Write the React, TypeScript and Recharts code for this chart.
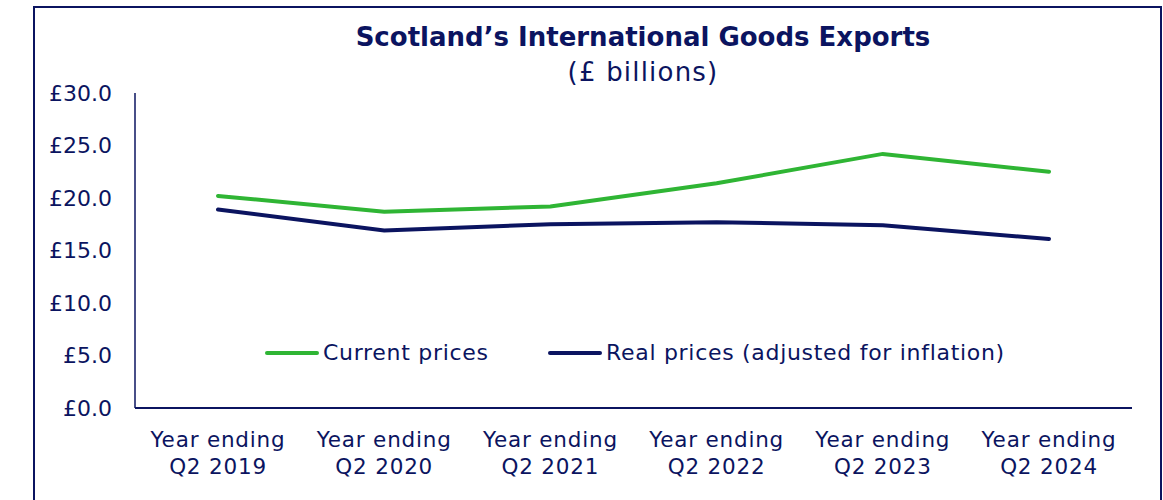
import * as React from "react";
import { LineChart, Line, XAxis, YAxis } from "recharts";

const periods = ["2019", "2020", "2021", "2022", "2023", "2024"];
const currentPrices = [20.2, 18.7, 19.2, 21.4, 24.2, 22.5];
const realPrices = [18.9, 16.9, 17.5, 17.7, 17.4, 16.1];
const yTicks = [0, 5, 10, 15, 20, 25, 30];

const NAVY = "#0b1460";
const GREEN = "#2fb534";
const FONT = "'DejaVu Sans', sans-serif";

const data = periods.map((p, i) => ({
  period: p,
  current: currentPrices[i],
  real: realPrices[i],
}));

const XTick = ({ x, y, payload }: any) => (
  <g transform={`translate(${x},${y})`}>
    <text textAnchor="middle" fill={NAVY} fontSize={21.5} fontFamily={FONT} letterSpacing={0.8}>
      <tspan x={0} dy={31}>Year ending</tspan>
      <tspan x={0} dy={27}>Q2 {payload.value}</tspan>
    </text>
  </g>
);

const legendItems = [
  { label: "Current prices", color: GREEN, left: 265 },
  { label: "Real prices (adjusted for inflation)", color: NAVY, left: 548 },
];

export default function App() {
  return (
    <div style={{ position: "absolute", left: 0, top: 0, width: 1163, height: 500, background: "#fff", overflow: "hidden" }}>
      <div
        style={{
          position: "absolute",
          left: 33,
          top: 6,
          width: 1125,
          height: 520,
          border: `2px solid ${NAVY}`,
        }}
      />
      <div
        style={{
          position: "absolute",
          left: 343,
          width: 600,
          top: 20,
          textAlign: "center",
          color: NAVY,
          fontFamily: FONT,
        }}
      >
        <div style={{ fontSize: 26, fontWeight: 700, lineHeight: "34px" }}>
          Scotland’s International Goods Exports
        </div>
        <div style={{ fontSize: 26, lineHeight: "36px", letterSpacing: 1.2 }}>(£ billions)</div>
      </div>
      <div style={{ position: "absolute", left: 0, top: 0 }}>
        <LineChart width={1163} height={500} data={data} margin={{ top: 93, right: 31, left: 35, bottom: 12 }}>
          <XAxis
            dataKey="period"
            tick={<XTick />}
            tickLine={false}
            axisLine={{ stroke: NAVY, strokeWidth: 2 }}
            height={80}
            interval={0}
            padding={{ left: 83, right: 83 }}
          />
          <YAxis
            domain={[0, 30]}
            ticks={yTicks}
            width={100}
            tickFormatter={(v: number) => `£${v.toFixed(1)}`}
            tick={{ fill: NAVY, fontSize: 22, fontFamily: FONT }}
            tickLine={false}
            tickSize={0}
            tickMargin={23}
            axisLine={{ stroke: NAVY, strokeWidth: 1.5 }}
          />
          <Line
            dataKey="current"
            name="Current prices"
            stroke={GREEN}
            strokeWidth={4}
            dot={false}
            strokeLinecap="round"
            isAnimationActive={false}
          />
          <Line
            dataKey="real"
            name="Real prices (adjusted for inflation)"
            stroke={NAVY}
            strokeWidth={4}
            dot={false}
            strokeLinecap="round"
            isAnimationActive={false}
          />
        </LineChart>
      </div>
      {legendItems.map((it) => (
        <div
          key={it.label}
          style={{
            position: "absolute",
            left: it.left,
            top: 340,
            display: "flex",
            alignItems: "center",
            fontFamily: FONT,
            fontSize: 22,
            letterSpacing: 0.7,
            color: NAVY,
            whiteSpace: "nowrap",
          }}
        >
          <div style={{ width: 54, height: 4, background: it.color, borderRadius: 2, marginRight: 4 }} />
          <span>{it.label}</span>
        </div>
      ))}
    </div>
  );
}
